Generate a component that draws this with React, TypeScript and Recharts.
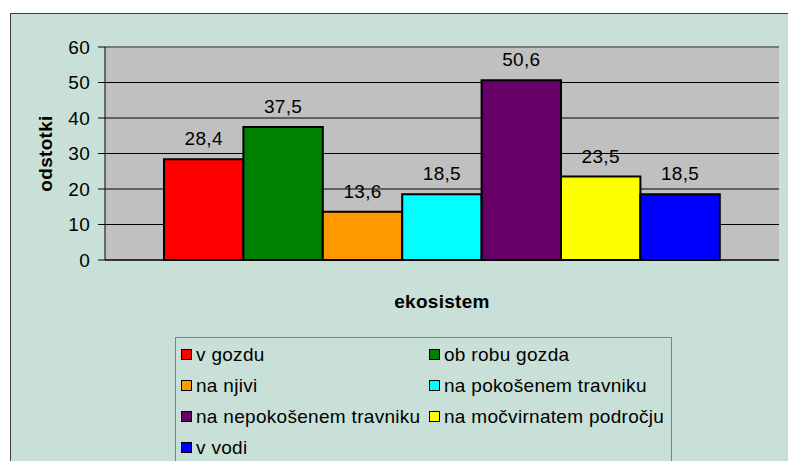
import React from 'react';
import {
  BarChart,
  Bar,
  XAxis,
  YAxis,
  CartesianGrid,
  Legend,
  LabelList,
  Label,
  ReferenceLine,
} from 'recharts';

const categories = [''];
const seriesNames = [
  'v gozdu',
  'ob robu gozda',
  'na njivi',
  'na pokošenem travniku',
  'na nepokošenem travniku',
  'na močvirnatem področju',
  'v vodi',
];
const seriesKeys = ['s1', 's2', 's3', 's4', 's5', 's6', 's7'];
const seriesValues = [28.4, 37.5, 13.6, 18.5, 50.6, 23.5, 18.5];
const seriesColors = ['#FF0000', '#008000', '#FF9900', '#00FFFF', '#660066', '#FFFF00', '#0000FF'];
const yTicks = [0, 10, 20, 30, 40, 50, 60];

const data = categories.map((c) => {
  const row: Record<string, any> = { name: c };
  seriesKeys.forEach((k, i) => {
    row[k] = seriesValues[i];
  });
  return row;
});

const FONT = '"Liberation Sans", Arial, sans-serif';
const BG = '#C8E0D8';
const FS = 19;
const LS = 0.3;

const fmt = (v: any) => String(v).replace('.', ',');

const YLabel = (props: any) => {
  const vb = props.viewBox || {};
  const cx = vb.x;
  const cy = vb.y + vb.height / 2;
  return (
    <text
      x={cx}
      y={cy}
      transform={`rotate(-90, ${cx}, ${cy})`}
      textAnchor="middle"
      dominantBaseline="central"
      fontFamily={FONT}
      fontWeight="bold"
      fontSize={FS}
      letterSpacing={LS}
      fill="#000"
    >
      odstotki
    </text>
  );
};

const XLabel = (props: any) => {
  const vb = props.viewBox || {};
  return (
    <text
      x={vb.x + vb.width / 2}
      y={vb.y + 48}
      textAnchor="middle"
      fontFamily={FONT}
      fontWeight="bold"
      fontSize={FS}
      letterSpacing={LS}
      fill="#000"
    >
      ekosistem
    </text>
  );
};

const LegendBox = () => {
  return (
    <div
      style={{
        width: 497,
        height: 140,
        boxSizing: 'border-box',
        border: '1px solid #808080',
        paddingTop: 1,
        display: 'grid',
        gridTemplateColumns: '248px 248px',
        gridAutoRows: '31px',
        fontFamily: FONT,
        fontSize: FS,
        letterSpacing: LS,
        color: '#000',
      }}
    >
      {seriesNames.map((n, i) => (
        <div key={n} style={{ display: 'flex', alignItems: 'center', paddingLeft: 5, whiteSpace: 'nowrap' }}>
          <span
            style={{
              display: 'inline-block',
              width: 9,
              height: 9,
              border: '1.5px solid #000',
              background: seriesColors[i],
              marginRight: 4,
              flex: 'none',
            }}
          />
          <span>{n}</span>
        </div>
      ))}
    </div>
  );
};

export default function App() {
  return (
    <div
      style={{
        position: 'absolute',
        left: 0,
        top: 0,
        width: 788,
        height: 461,
        overflow: 'hidden',
        background: '#fff',
      }}
    >
      <div
        style={{
          position: 'absolute',
          left: 10,
          top: 13,
          width: 778,
          height: 448,
          background: BG,
          borderTop: '1px solid #3a3a3a',
          borderLeft: '1px solid #3a3a3a',
          boxSizing: 'border-box',
        }}
      />
      <div style={{ position: 'absolute', left: 0, top: 0 }}>
        <BarChart
          width={788}
          height={461}
          data={data}
          margin={{ top: 47, right: 9, left: 45, bottom: 156 }}
          barGap={0}
          barSize={79.4}
        >
          <CartesianGrid
            vertical={false}
            stroke="#000"
            strokeWidth={1}
            fill="#C0C0C0"
            fillOpacity={1}
          />
          <XAxis
            dataKey="name"
            height={45}
            tick={false}
            tickLine={false}
            axisLine={{ stroke: '#000', strokeWidth: 1 }}
          >
            <Label content={XLabel} />
          </XAxis>
          <YAxis
            width={60}
            domain={[0, 60]}
            ticks={yTicks}
            interval={0}
            tickSize={7}
            tickMargin={8}
            tickLine={{ stroke: '#000' }}
            axisLine={{ stroke: '#000', strokeWidth: 1 }}
            tick={{ fill: '#000', fontSize: FS, fontFamily: FONT, letterSpacing: LS }}
          >
            <Label content={YLabel} />
          </YAxis>
          <YAxis
            yAxisId="r"
            orientation="right"
            width={0}
            tick={false}
            tickLine={false}
            axisLine={{ stroke: '#808080', strokeWidth: 1.5 }}
          />
          <ReferenceLine y={60} stroke="#808080" strokeWidth={1.5} />
          <Legend
            layout="horizontal"
            verticalAlign="middle"
            align="center"
            content={LegendBox}
            wrapperStyle={{ position: 'absolute', left: 175, top: 337, width: 497, height: 140 }}
          />
          {seriesKeys.map((k, i) => (
            <Bar
              key={k}
              dataKey={k}
              name={seriesNames[i]}
              fill={seriesColors[i]}
              stroke="#000"
              strokeWidth={2}
              isAnimationActive={false}
            >
              <LabelList
                dataKey={k}
                position="top"
                offset={14}
                formatter={fmt}
                fill="#000"
                fontSize={FS}
                fontFamily={FONT}
                letterSpacing={LS}
              />
            </Bar>
          ))}
        </BarChart>
      </div>
    </div>
  );
}
